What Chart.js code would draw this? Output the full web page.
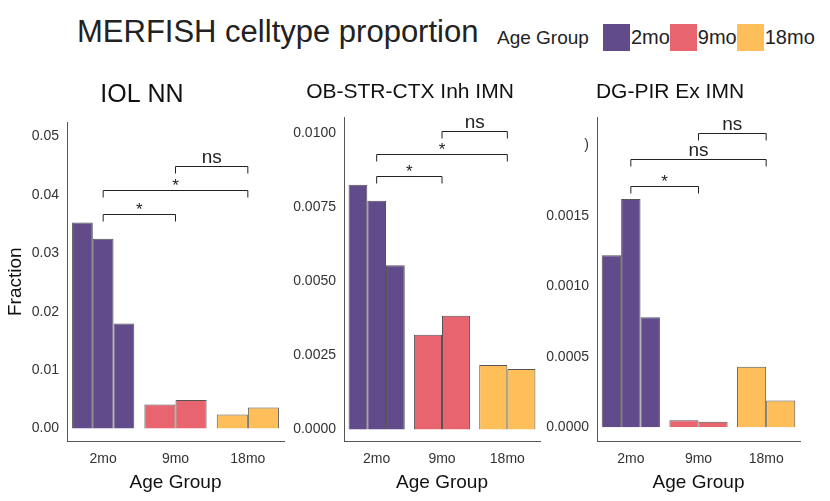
<!DOCTYPE html>
<html><head><meta charset="utf-8">
<script src="https://cdn.jsdelivr.net/npm/chart.js@4"></script>
<style>
body{margin:0;width:830px;height:501px;background:#fff;position:relative;font-family:"Liberation Sans",Arial,sans-serif;overflow:hidden}
.p{position:absolute}
#hdr{position:absolute;left:77px;top:14px;font-size:31px;color:#222}
#leg{position:absolute;left:497px;top:24px;font-size:19px;color:#222;display:flex;align-items:center}
#leg span.b{display:inline-block;width:27px;height:27px;margin:0 1px 0 12px}
</style></head><body>
<div id="hdr">MERFISH celltype proportion</div>
<div id="leg">Age Group<span class="b" style="background:#624B8A;margin-left:14px"></span><span style="font-size:20px">2mo</span><span class="b" style="background:#E8656F;margin-left:0"></span><span style="font-size:20px">9mo</span><span class="b" style="background:#FEBF5A;margin-left:0"></span><span style="font-size:20px">18mo</span></div>
<div class="p" style="left:0;top:70px;width:290px;height:430px"><canvas id="c1"></canvas></div>
<div class="p" style="left:280px;top:70px;width:266px;height:430px"><canvas id="c2"></canvas></div>
<div class="p" style="left:540px;top:70px;width:266px;height:430px"><canvas id="c3"></canvas></div>
<script>
const categories=["2mo","9mo","18mo"];
const colors=["#624B8A","#E8656F","#FEBF5A"];
const titles=["IOL NN","OB-STR-CTX Inh IMN","DG-PIR Ex IMN"];
// replicate values per age group (null = no replicate)
const rep1_1=[0.0353,0.0041,0.0024], rep2_1=[0.0325,0.0049,0.0036], rep3_1=[0.0180,null,null];
const rep1_2=[0.00826,0.0032,0.00218], rep2_2=[0.00772,0.00384,0.00204], rep3_2=[0.00554,null,null];
const rep1_3=[0.00122,0.00005,0.00043], rep2_3=[0.00162,0.00004,0.00019], rep3_3=[0.00078,null,null];
// brackets: [fromIdx, toIdx, yValue, label]
const br1=[[0,1,0.0368,"*"],[0,2,0.0408,"*"],[1,2,0.0449,"ns"]];
const br2=[[0,1,0.00857,"*"],[0,2,0.00929,"*"],[1,2,0.01007,"ns"]];
const br3=[[0,1,0.00171,"*"],[0,2,0.0019,"ns"],[1,2,0.00209,"ns"]];
const ticks1=[0,0.01,0.02,0.03,0.04,0.05], ticks2=[0,0.0025,0.005,0.0075,0.01], ticks3=[0,0.0005,0.001,0.0015,0.002];

const bracketPlugin={id:'br',afterDatasetsDraw(ch,a,o){
 const x=ch.scales.x,y=ch.scales.y,c=ch.ctx;c.save();c.strokeStyle="#222";c.lineWidth=1;c.fillStyle="#222";c.textAlign="center";
 for(const [f,t,v,l] of o.list){const x1=x.getPixelForValue(f),x2=x.getPixelForValue(t),yy=Math.round(y.getPixelForValue(v))+0.5;
  c.beginPath();c.moveTo(x1,yy+7);c.lineTo(x1,yy);c.lineTo(x2,yy);c.lineTo(x2,yy+7);c.stroke();
  c.font=(l=="*"?"17px":"19px")+' "Liberation Sans"';c.textBaseline="bottom";c.fillText(l,(x1+x2)/2,yy+(l=="*"?4:1));}
 c.restore();}};

function make(id,reps,title,min,max,ticks,fmt,brs,yw,showY){
 new Chart(document.getElementById(id),{type:'bar',
  data:{labels:categories,datasets:reps.map(r=>({data:r,backgroundColor:colors,borderColor:"#555",borderWidth:1,skipNull:true,categoryPercentage:0.86,barPercentage:1}))},
  options:{responsive:true,maintainAspectRatio:false,animation:false,
   layout:{padding:{right:6,bottom:2}},
   plugins:{legend:{display:false},tooltip:{enabled:false},br:{list:brs},
    title:{display:true,text:title,color:"#111",font:{family:"Liberation Sans",size:title.length>10?21:25,weight:'normal'},padding:{top:10,bottom:12}}},
   scales:{
    x:{grid:{display:false,drawTicks:true,tickLength:5,color:"#444"},border:{color:"#555"},
      ticks:{color:"#333",font:{family:"Liberation Sans",size:14},padding:4},
      title:{display:true,text:"Age Group",color:"#111",font:{family:"Liberation Sans",size:19},padding:{top:0}}},
    y:{min:min,max:max,grid:{display:false,drawTicks:true,tickLength:5,color:"#444"},border:{color:"#555"},
      afterBuildTicks:s=>{s.ticks=ticks.map(v=>({value:v}));},
      afterFit:s=>{s.width=yw;},
      ticks:{color:"#333",font:{family:"Liberation Sans",size:14},callback:fmt},
      title:{display:showY,text:"Fraction",color:"#111",font:{family:"Liberation Sans",size:19},padding:{bottom:2}}}}},
  plugins:[bracketPlugin]});
}
make("c1",[rep1_1,rep2_1,rep3_1],titles[0],-0.0022,0.0525,ticks1,v=>v.toFixed(2),br1,67,true);
make("c2",[rep1_2,rep2_2,rep3_2],titles[1],-0.0004,0.01054,ticks2,v=>v.toFixed(4),br2,64,false);
make("c3",[rep1_3,rep2_3,rep3_3],titles[2],-0.0001,0.0022,ticks3,v=>v>=0.002?")":v.toFixed(4),br3,57,false);
</script></body></html>
